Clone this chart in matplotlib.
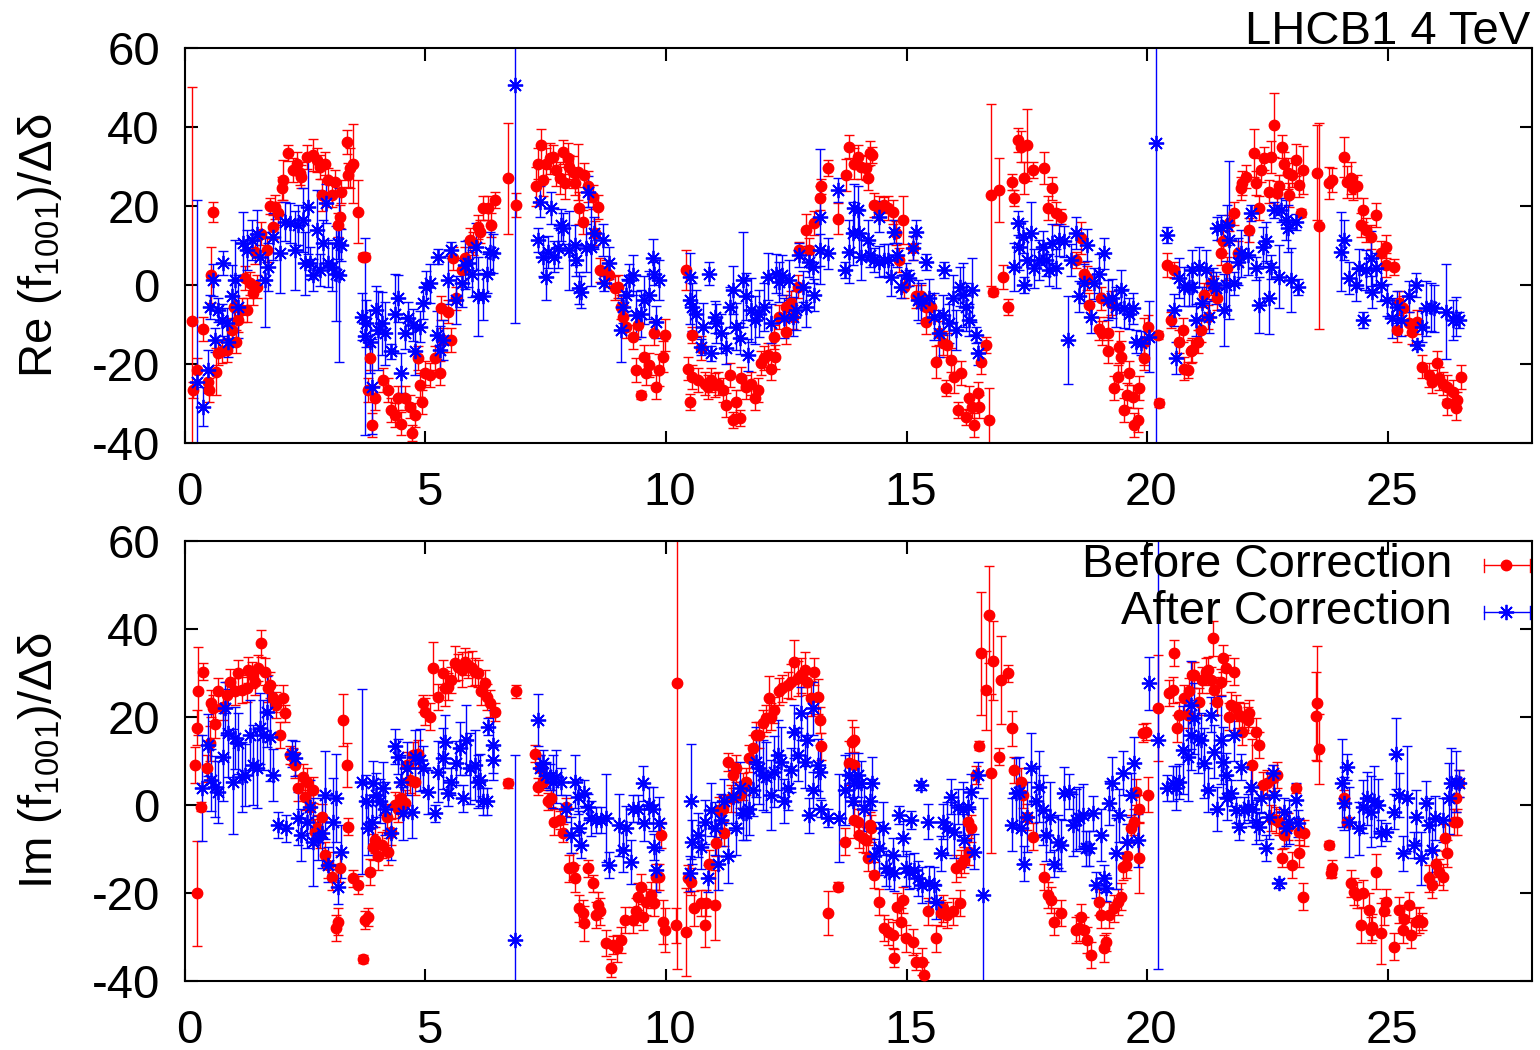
"""
LHCB1 4 TeV: coupling RDT f1001 / delta along the ring, before and after correction.
Top panel: real part, bottom panel: imaginary part.
"""

import numpy as np
import matplotlib
matplotlib.use("Agg")
import matplotlib.pyplot as plt
from matplotlib.transforms import ScaledTranslation


# ----------------------------
# Data: (s [km], value, error)
# ----------------------------

re_before = [
    (0.15, -9, 59), (0.17, -26.5, 2), (0.26, -21.5, 3), (0.38, -11.2, 3), (0.59, 18.4, 2.5),
    (0.48, -24.4, 3), (0.50, -26.5, 3), (0.64, -21.9, 6), (0.55, 2.5, 7), (0.69, -17.3, 3),
    (0.76, -16.8, 3), (0.87, -16.4, 3), (0.97, -11.4, 3), (1.07, -14.3, 3), (1.11, -8.8, 3),
    (1.02, -5.5, 3), (1.18, -6.3, 3), (1.28, -6.3, 3), (1.25, 1.7, 3), (1.35, 0.4, 3),
    (1.42, -2.1, 3), (1.49, -0.4, 3), (1.45, 8.4, 3), (1.59, 13, 3), (1.70, 8.8, 3),
    (1.84, 14.7, 3), (1.77, 20, 2), (1.87, 19.8, 3), (1.94, 18.1, 3), (2.01, 24.4, 3),
    (2.04, 26.5, 5), (2.15, 33.3, 2), (2.25, 29.1, 3), (2.32, 30.7, 3), (2.39, 28.2, 3),
    (2.42, 27.4, 3), (2.53, 32.4, 3), (2.67, 32.9, 4), (2.74, 31.6, 3), (2.80, 29.9, 3),
    (2.91, 30.7, 3), (2.84, 22.7, 4), (2.98, 26.5, 3), (3.05, 22.7, 3), (3.12, 26.1, 3),
    (3.25, 23.6, 3), (3.22, 17.3, 3), (3.19, 15.2, 3), (3.36, 36.2, 3), (3.39, 27.8, 3),
    (3.43, 29.5, 5), (3.50, 30.7, 10), (3.59, 18.5, 8), (3.70, 7.2, 1), (3.74, 7.2, 1),
    (3.84, -18.5, 3), (3.88, -35.4, 3), (3.81, -26.5, 3), (3.95, -28.6, 3), (4.12, -24, 3),
    (4.22, -26.5, 3), (4.29, -31.6, 3), (4.36, -32.9, 3), (4.43, -28.6, 3), (4.50, -35, 3),
    (4.57, -28.6, 3), (4.67, -30.7, 3), (4.78, -32.9, 3), (4.71, -37.4, 2), (4.92, -29.5, 3),
    (4.88, -25.3, 3), (4.85, -18.5, 3), (4.99, -22.3, 3), (5.09, -22.7, 3), (5.19, -18.5, 3),
    (5.30, -22.3, 3), (5.37, -13.9, 3), (5.33, -5.9, 3), (5.47, -6.7, 3), (5.54, -13.9, 3),
    (5.57, 6.7, 3), (5.64, -3.4, 3), (5.75, 3.8, 3), (5.82, 6.7, 3), (5.92, 11.4, 3),
    (5.99, 10.5, 3), (6.09, 14.7, 3), (6.13, 13.5, 3), (6.20, 19.4, 3), (6.30, 19.4, 3),
    (6.37, 15.2, 3), (6.44, 21.5, 2), (6.72, 27, 14), (6.89, 20.2, 3),
    (7.30, 24.9, 5), (7.33, 30.7, 4), (7.40, 35.4, 4), (7.44, 26.5, 4), (7.51, 30.7, 4),
    (7.58, 32, 4), (7.65, 32.4, 3), (7.72, 29.1, 4), (7.79, 27, 4), (7.85, 33.7, 3),
    (7.89, 25.7, 4), (7.96, 32, 4), (7.99, 29.9, 3), (8.06, 28.6, 4), (8.10, 25.7, 3),
    (8.17, 28.6, 7), (8.20, 19.4, 4), (8.27, 16, 3), (8.30, 27.8, 3), (8.37, 24.9, 4),
    (8.48, 22.3, 3), (8.58, 19.8, 3), (8.53, 13.1, 3), (8.62, 3.8, 3), (8.75, 3.4, 3),
    (8.82, 2.5, 3), (8.93, -0.8, 3), (9.00, -0.4, 3), (9.07, -5.5, 3), (9.10, -8, 3),
    (9.17, -10.5, 3), (9.31, -13.1, 3), (9.41, -10.1, 3), (9.38, -21.5, 3), (9.48, -27.8, 1),
    (9.55, -18.1, 3), (9.59, -22.3, 3), (9.65, -20.2, 3), (9.76, -12.2, 3), (9.79, -25.7, 3),
    (9.86, -21.5, 4), (9.93, -18.1, 4), (9.97, -12.6, 4),
    (10.42, 3.8, 5), (10.49, -29.5, 2), (10.45, -21.1, 3), (10.55, -12.6, 2), (10.55, -23.2, 3),
    (10.66, -24, 3), (10.73, -16, 3), (10.80, -24.9, 3), (10.87, -25.7, 3), (10.94, -24, 3),
    (11.01, -25.3, 3), (11.07, -24.9, 3), (11.18, -26.5, 3), (11.25, -30.3, 3), (11.32, -22.7, 3),
    (11.39, -34.1, 2), (11.46, -29.5, 3), (11.53, -33.7, 2), (11.56, -23.6, 3), (11.66, -25.7, 3),
    (11.77, -24.9, 3), (11.84, -28.6, 3), (11.91, -26.5, 3), (11.98, -19.8, 3), (12.04, -18.5, 3),
    (12.11, -17.7, 3), (12.18, -21.1, 3), (12.27, -18.1, 3), (12.25, -13.1, 3), (12.35, -8, 3),
    (12.49, -11.8, 3), (12.49, -5.5, 3), (12.60, -4.6, 3), (12.63, -8, 3), (12.74, -0.4, 3),
    (12.77, 8.8, 2), (12.91, 13.9, 4), (12.98, 8.8, 3), (13.08, 15.6, 3), (13.19, 21.9, 3),
    (13.22, 24.9, 2), (13.36, 29.5, 2), (13.57, 16.8, 4), (13.74, 27.8, 4), (13.81, 35, 3),
    (13.91, 30.7, 4),
    (13.98, 32.4, 3), (14.05, 29.9, 3), (14.16, 29.5, 3), (14.23, 33.3, 3), (14.29, 32.9, 2),
    (14.19, 27, 3), (14.33, 20.2, 3), (14.43, 19.4, 3), (14.54, 20.2, 2), (14.61, 19.4, 3),
    (14.71, 18.5, 3), (14.92, 16.4, 6), (14.78, 13.1, 3), (14.85, 6.3, 3), (14.95, -0.4, 3),
    (15.13, 9.3, 3), (15.20, -2.9, 3), (15.30, -2.9, 3), (15.40, -5.5, 3), (15.40, -9.3, 3),
    (15.51, -5.5, 3), (15.61, -19.4, 4), (15.68, -12.2, 3), (15.75, -14.7, 3), (15.85, -15.2, 3),
    (15.92, -19, 3), (15.82, -26.1, 2), (15.99, -23.2, 4), (16.06, -31.6, 2), (16.13, -22.3, 3),
    (16.23, -33.3, 2), (16.30, -28.6, 3), (16.37, -30.7, 3), (16.41, -35.4, 3), (16.48, -27.4, 3),
    (16.51, -30.7, 3), (16.55, -19.4, 3), (16.65, -15.2, 2), (16.72, -34.1, 8),
    (16.75, 22.7, 23), (16.93, 24, 8), (16.79, -1.7, 1), (17.00, 2.1, 3), (17.10, -5.5, 2),
    (17.20, 26.1, 2), (17.24, 21.9, 2), (17.31, 36.6, 3), (17.38, 35, 4), (17.45, 27, 4),
    (17.51, 35.4, 9), (17.62, 29.1, 2), (17.86, 29.5, 4), (17.93, 19.4, 3), (18.03, 24.4, 3),
    (18.10, 18.1, 3), (18.21, 17.3, 2), (18.52, 6.3, 2), (18.62, 11.8, 4), (18.69, 2.9, 3),
    (18.76, 1.7, 3), (18.80, -5.1, 3), (19.00, -11, 3), (19.04, -3.4, 3), (19.07, -12.2, 3),
    (19.18, -12.2, 4), (19.25, -4.6, 3), (19.18, -16.8, 3), (19.32, -26.1, 3), (19.39, -23.2, 3),
    (19.42, -15.6, 4), (19.45, -18.1, 4), (19.52, -31.6, 3), (19.59, -27.8, 3), (19.63, -22.3, 3),
    (19.70, -28.2, 3), (19.73, -35.4, 3), (19.80, -34.1, 3), (19.83, -26.1, 3), (19.94, -18.5, 3),
    (20.01, -10.5, 3), (19.94, -14.3, 6), (20.22, -12.6, 1), (20.25, -29.9, 1), (20.42, 5.1, 3),
    (20.56, 3.8, 2), (20.49, -8.8, 2), (20.67, -14.3, 3), (20.74, -11.4, 3), (20.77, -21.1, 3),
    (20.84, -21.5, 2), (20.91, -16.8, 3),
    (20.94, -16.4, 3), (21.05, -14.3, 3), (21.12, -11.4, 3), (21.19, -2.5, 3), (21.26, -8, 3),
    (21.32, 0.4, 3), (21.39, -0.8, 3), (21.46, -3.4, 3), (21.53, 8, 3), (21.57, 11, 3),
    (21.67, 4.2, 3), (21.71, 15.6, 2), (21.81, 18.1, 3), (21.88, 8, 3), (21.95, 24.4, 3),
    (21.98, 25.7, 3), (22.05, 27.4, 3), (22.12, 13.9, 3), (22.23, 33.3, 6), (22.26, 25.7, 3),
    (22.33, 19.4, 3), (22.36, 29.1, 3), (22.43, 32, 3), (22.54, 23.6, 3), (22.57, 32.4, 4),
    (22.64, 40.4, 8), (22.71, 23.2, 3), (22.74, 24.9, 3), (22.81, 35, 3), (22.85, 30.7, 3),
    (22.92, 28.2, 4), (22.95, 22.7, 3), (23.02, 27.8, 3), (23.09, 31.6, 4), (23.16, 25.3, 3),
    (23.23, 29.1, 6), (23.19, 18.1, 1), (23.54, 28.4, 12), (23.58, 14.9, 26), (23.78, 25.7, 4),
    (23.85, 26.5, 3), (24.10, 32.4, 5), (24.16, 26.1, 4), (24.23, 27, 4), (24.27, 24.4, 3),
    (24.37, 24.9, 3), (24.48, 19, 3), (24.44, 15.2, 3), (24.55, 13.9, 3), (24.65, 12.2, 3),
    (24.75, 17.7, 3), (24.86, 8, 3), (24.96, 9.7, 3), (25.13, 4.6, 2), (24.96, 5.1, 3),
    (25.24, -4.6, 3), (25.31, -5.9, 3), (25.20, -11.4, 3), (25.45, -9.7, 3), (25.51, -11.8, 3),
    (25.62, -9.3, 3), (25.72, -20.6, 3), (25.86, -22.7, 3), (25.93, -24.4, 3), (26.03, -19.8, 3),
    (26.07, -23.6, 3), (26.14, -24.9, 3), (26.24, -25.7, 3), (26.24, -29.9, 3), (26.35, -27, 3),
    (26.42, -31.2, 3), (26.45, -29.1, 2), (26.52, -23.2, 3),
]

re_after = [
    (0.24, -24.4, 46), (0.38, -30.7, 5), (0.48, -21.5, 5), (0.59, 1.3, 4), (0.52, -5.5, 3),
    (0.62, -13.9, 3), (0.69, -6.3, 3), (0.80, 5.5, 3), (0.76, -8.8, 4), (0.87, -9.7, 4),
    (0.90, -14.3, 4), (0.97, -2.9, 8), (1.04, 1.3, 10), (1.11, -5.5, 8), (1.21, 10.5, 8),
    (1.28, 8.8, 5), (1.39, 11.4, 5), (1.49, 13, 6), (1.56, 7.2, 6), (1.66, 1.3, 12),
    (1.73, 4.6, 6), (1.84, 12.2, 6), (1.97, 8, 10), (2.08, 16, 5), (2.18, 15.6, 5),
    (2.29, 8.8, 10), (2.35, 15.2, 5), (2.46, 16.4, 8), (2.49, 5.5, 8), (2.56, 19.8, 12),
    (2.60, 5.5, 4), (2.67, 2.5, 4), (2.74, 13.9, 10), (2.80, 3.8, 4), (2.87, 10.5, 6),
    (2.94, 20.6, 5), (2.98, 5.5, 6), (3.05, 4.6, 6), (3.15, 2.9, 12), (3.19, 10.5, 4),
    (3.25, 10.1, 4), (3.20, 2.5, 22), (3.74, -13, 25), (3.67, -8, 6), (3.77, -9.7, 6),
    (3.84, -14.3, 8), (3.88, -25.7, 12), (3.98, -6.3, 6), (4.02, -11.4, 10), (4.09, -9.7, 8),
    (4.16, -12.2, 8), (4.29, -16.8, 2), (4.36, -7.2, 10), (4.43, -3.4, 6), (4.50, -22.3, 5),
    (4.57, -12.2, 4), (4.64, -8.4, 4), (4.74, -10.1, 4), (4.78, -16.8, 6), (4.88, -10.5, 4),
    (4.95, -4.6, 4), (5.02, -0.4, 4), (5.09, 0.4, 5), (5.23, -12.6, 6), (5.30, -16.4, 6),
    (5.37, -13.9, 5), (5.47, 1.3, 6), (5.54, 8.8, 2), (5.64, -3.8, 6), (5.75, 0.4, 6),
    (5.82, 5.1, 6), (5.89, 5.5, 6), (5.96, 2.9, 6), (6.06, 9.7, 6), (6.09, -2.9, 10),
    (6.20, -2.9, 6), (6.27, 2.9, 5), (6.34, 8.4, 5), (6.41, 8, 5), (5.26, 7.2, 2),
    (6.86, 50.5, 60),
    (7.37, 21.1, 4), (7.33, 11.4, 3), (7.44, 7.2, 5), (7.51, 2.1, 6), (7.54, 8.4, 4),
    (7.61, 19.4, 4), (7.68, 7.2, 4), (7.75, 9.3, 5), (7.82, 15.2, 4), (7.85, 14.3, 4),
    (7.99, 8.8, 10), (8.10, 10.1, 5), (8.13, 6.3, 4), (8.20, -0.8, 4), (8.24, -1.7, 4),
    (8.34, 9.3, 6), (8.37, 23.6, 4), (8.44, 9.7, 10), (8.51, 13.1, 4), (8.69, 11.4, 4),
    (8.72, 0.4, 2), (8.82, 5.5, 4), (9.07, -11.4, 8), (9.10, -5.5, 4), (9.17, -2.5, 4),
    (9.24, 1.3, 4), (9.31, 2.5, 5), (9.38, -7.6, 6), (9.48, -7.2, 6), (9.55, -3.8, 6),
    (9.65, -2.5, 6), (9.72, 6.7, 5), (9.76, 2.9, 3), (9.79, -9.3, 4), (9.86, 1.3, 5),
    (10.49, 2.1, 6), (10.49, -3.8, 6), (10.55, -5.5, 6), (10.62, -7.2, 6), (10.73, -15.6, 2),
    (10.76, -10.5, 6), (10.90, 2.9, 3), (10.94, -17.3, 2), (11.01, -8, 4), (11.04, -9.7, 5),
    (11.14, -12.2, 5), (11.25, -16, 4), (11.32, -5.5, 5), (11.39, -1.3, 6), (11.46, -10.5, 6),
    (11.53, -13.5, 4), (11.59, 1.3, 12), (11.66, -2.9, 6), (11.70, -17.7, 4), (11.77, -6.3, 8),
    (11.84, -8.8, 6), (11.94, -7.2, 6), (12.04, -5.5, 6), (12.11, 2.1, 6), (12.18, -9.7, 5),
    (12.29, 2.9, 5), (12.35, 0.8, 5), (12.42, 2.5, 5), (12.46, -8.4, 5), (12.56, 1.3, 5),
    (12.63, -8, 5), (12.70, -6.3, 5), (12.77, 7.6, 3), (12.84, -0.4, 4), (12.91, -5.5, 5),
    (12.98, 5.9, 4), (13.05, 4.6, 4), (13.08, -2.5, 4), (13.19, 17.3, 17), (13.19, 8.8, 4),
    (13.36, 8, 4), (13.57, 24, 3), (13.71, 3.8, 2), (13.81, 8.4, 8), (13.88, 13.1, 8),
    (13.91, 19.4, 6),
    (13.98, 19, 6), (14.02, 13.1, 6), (14.05, 7.2, 6), (14.19, 11.4, 5), (14.23, 7.6, 3),
    (14.33, 6.3, 3), (14.43, 17.3, 4), (14.43, 5.9, 4), (14.54, 6.3, 4), (14.61, 6.3, 4),
    (14.68, 2.1, 5), (14.74, 13.5, 3), (14.81, 7.6, 3), (14.88, -0.4, 3), (14.99, 2.5, 3),
    (15.06, 1.7, 2), (15.13, 9.3, 3), (15.20, 13.5, 3), (15.23, -3.8, 5), (15.30, -4.6, 5),
    (15.40, 5.9, 2), (15.47, -3.4, 5), (15.58, -8, 6), (15.68, -12.2, 6), (15.75, -7.6, 5),
    (15.78, 3.8, 2), (15.89, -9.7, 5), (15.96, -3.4, 6), (16.03, -11.4, 5), (16.10, -0.4, 5),
    (16.17, -2.5, 8), (16.23, -5.5, 6), (16.30, -8.8, 4), (16.37, -1.3, 8), (16.44, -12.6, 2),
    (16.48, -17.3, 3),
    (17.24, 4.6, 6), (17.31, 15.6, 3), (17.34, 9.7, 6), (17.41, 12.2, 4), (17.45, 0, 2),
    (17.51, 6.3, 6), (17.58, 13.1, 8), (17.65, 4.2, 5), (17.76, 6.3, 5), (17.83, 9.7, 4),
    (17.90, 6.3, 4), (17.97, 3.8, 4), (18.03, 10.5, 5), (18.10, 4.2, 5), (18.17, 11.4, 4),
    (18.28, 11, 4), (18.35, -13.9, 11), (18.42, 6.3, 4), (18.52, 13.1, 4), (18.59, -2.9, 4),
    (18.69, 0.4, 5), (18.76, 10.1, 4), (18.83, -8, 4), (18.90, 0.4, 4), (18.99, 2.9, 5),
    (19.11, 8, 4), (19.18, -3.8, 5), (19.28, -3.4, 5), (19.35, -5.5, 5), (19.45, -1.3, 5),
    (19.52, -5.9, 5), (19.63, -7.2, 4), (19.70, -5.9, 4), (19.77, -14.3, 3), (19.87, -14.7, 3),
    (20.04, -13.1, 9), (20.18, 35.8, 95), (20.42, 12.6, 2), (20.56, -6.3, 4), (20.60, -18.5, 4),
    (20.67, 1.7, 5), (20.77, -0.4, 5), (20.87, -0.4, 5), (20.94, 3.8, 5),
    (20.94, -0.4, 5), (21.01, -8.8, 4), (21.08, 4.6, 5), (21.15, -4.6, 4), (21.22, 3.8, 5),
    (21.29, -8, 4), (21.36, 0.4, 4), (21.43, -0.8, 4), (21.46, 14.3, 3), (21.53, 14.7, 3),
    (21.60, -6.3, 9), (21.64, 0, 6), (21.67, 15.2, 5), (21.71, 11.4, 20), (21.81, 0.4, 3),
    (21.88, 5.9, 6), (21.95, 8, 6), (22.09, 7.6, 5), (22.16, 18.1, 2), (22.26, 4.2, 3),
    (22.33, -5.1, 7), (22.40, 9.7, 5), (22.47, 11, 5), (22.54, -3.4, 9), (22.57, 4.6, 3),
    (22.64, 19, 2), (22.74, 2.1, 8), (22.78, 19, 3), (22.88, 16.4, 5), (22.92, 14.3, 6),
    (22.99, 1.3, 8), (23.09, 16, 2), (23.13, -0.4, 2),
    (24.03, 8.4, 10), (24.10, 11.4, 5), (24.20, 1.7, 4), (24.34, 0, 4), (24.41, 4.2, 5),
    (24.48, -8.8, 2), (24.55, 3.8, 5), (24.65, 6.7, 7), (24.68, -1.7, 4), (24.75, 4.2, 4),
    (24.86, 0, 4), (24.99, -3.8, 4), (25.10, -8.4, 5), (25.20, -5.5, 4), (25.27, -8.8, 4),
    (25.45, -2.9, 4), (25.58, 0, 3), (25.62, -15.2, 1), (25.72, -10.5, 4), (25.79, -5.9, 7),
    (25.90, -5.5, 6), (25.97, -5.9, 6), (26.21, -6.7, 12), (26.35, -8.8, 5), (26.42, -8, 5),
    (26.48, -8.8, 2),
]

im_before = [
    (0.21, 9.1, 4), (0.24, 17.6, 4), (0.24, -20.1, 12), (0.28, 25.9, 10), (0.33, -0.4, 1),
    (0.38, 30.3, 2), (0.45, 8.3, 3), (0.52, 14, 4), (0.55, 23.1, 3), (0.59, 22, 3),
    (0.62, 18.3, 3), (0.69, 25.8, 3), (0.80, 22.3, 3), (0.87, 25, 3), (0.93, 28, 3),
    (1.04, 25.8, 3), (1.11, 29.9, 3), (1.18, 26.1, 3), (1.28, 26.5, 3), (1.32, 30.7, 3),
    (1.39, 29.5, 3), (1.45, 28, 3), (1.52, 31.1, 3), (1.59, 36.7, 3), (1.66, 30.3, 3),
    (1.73, 26.5, 3), (1.77, 27.3, 3), (1.84, 24.2, 3), (1.90, 22.7, 3), (1.97, 15.9, 3),
    (2.04, 24.2, 3), (2.08, 20.8, 2), (2.18, 11.4, 2), (2.25, 11, 2), (2.29, 9.1, 3),
    (2.35, 3.8, 3), (2.46, 6.4, 3), (2.49, 1.9, 3), (2.53, 5.3, 3), (2.60, -0.4, 3),
    (2.67, 3.4, 3), (2.70, -6.1, 3), (2.74, -5.3, 3), (2.80, -6.8, 3), (2.84, -2.7, 3),
    (2.91, -11.4, 3), (2.98, -13.6, 3), (3.05, -16.3, 3), (3.15, -28, 3), (3.19, -26.5, 3),
    (3.22, -14.4, 3), (3.29, 19.3, 6), (3.36, 9.2, 5), (3.39, -4.9, 2), (3.50, -16.7, 2),
    (3.59, -18.2, 2), (3.70, -35, 1), (3.74, -26.1, 2), (3.81, -25.4, 2), (3.84, -15.2, 3),
    (3.91, -9.5, 3), (3.95, -8, 3), (4.02, -11.7, 3), (4.09, -9.1, 3), (4.19, -2.7, 3),
    (4.22, -10.6, 3), (4.29, -6.1, 3), (4.36, 0, 3), (4.43, -0.8, 3), (4.50, 1.5, 3),
    (4.57, 0.4, 3), (4.61, 9.1, 3), (4.67, 5.7, 3), (4.74, 11.4, 3), (4.78, 5.3, 3),
    (4.85, 11.7, 3), (4.95, 23.1, 2), (4.99, 21.2, 3), (5.09, 20.1, 3), (5.16, 31.1, 6),
    (5.26, 24.6, 3), (5.37, 29.9, 3), (5.40, 26.5, 4), (5.47, 26.9, 3), (5.54, 28.4, 3),
    (5.61, 32.2, 4), (5.68, 31.4, 3), (5.75, 30.7, 4), (5.82, 32.6, 3), (5.89, 31.8, 3),
    (5.96, 31.1, 4), (6.02, 30.3, 3), (6.09, 29.9, 3), (6.16, 25.8, 3), (6.23, 27.7, 3),
    (6.27, 24.6, 3), (6.34, 23.1, 3), (6.44, 21.2, 2), (6.72, 4.9, 1), (6.89, 25.8, 1.5),
    (7.27, 11.7, 2), (7.33, 4.2, 2), (7.37, 8.3, 3), (7.44, 5.3, 2), (7.54, 0.8, 2),
    (7.61, 1.5, 2), (7.68, -3.8, 3), (7.79, -3.4, 2), (7.85, -6.4, 2), (7.92, -0.4, 2),
    (7.99, -14.4, 3), (8.06, -14, 3), (8.10, -16.7, 3), (8.20, -23.5, 3), (8.27, -24.6, 3),
    (8.30, -26.9, 4), (8.37, -14.4, 2), (8.48, -17.8, 2), (8.55, -25, 3), (8.58, -22.7, 3),
    (8.62, -24.2, 3), (8.75, -31.4, 3), (8.86, -37.1, 2), (8.89, -31.8, 2), (8.99, -32.6, 3),
    (9.07, -30.7, 3), (9.14, -26.1, 3), (9.31, -26.1, 3), (9.38, -24.2, 3), (9.41, -20.8, 3),
    (9.52, -25.4, 3), (9.48, -18.6, 3), (9.59, -22, 3), (9.69, -20.5, 3), (9.76, -22.3, 3),
    (9.79, -16.3, 3), (9.86, -16.3, 3), (9.90, -6.8, 3), (9.93, -26.5, 5), (9.97, -28.4, 5),
    (10.21, -27.3, 4), (10.22, 27.8, 65), (10.42, -28.8, 10), (10.45, -16.7, 3), (10.52, -17.4, 3),
    (10.59, -23.5, 4), (10.73, -22.3, 3), (10.80, -27.3, 5), (10.83, -22.3, 3), (10.90, -13.3, 3),
    (11.01, -22.7, 8), (11.04, -8.7, 3), (11.11, -1.1, 3), (11.18, -0.8, 3), (11.21, -6.4, 3),
    (11.28, 9.8, 2), (11.35, 1.5, 3), (11.39, 6.8, 3), (11.46, 8.3, 3), (11.53, 2.3, 3),
    (11.59, 4.2, 3), (11.66, 5.3, 3), (11.73, 10.6, 3), (11.80, 12.9, 3), (11.87, 15.9, 3),
    (11.94, 15.9, 3), (12.01, 18.6, 3), (12.08, 19.7, 3), (12.15, 24.2, 5), (12.18, 20.1, 3),
    (12.25, 21.6, 3), (12.35, 25.8, 3), (12.42, 26.5, 3), (12.53, 27.3, 3), (12.60, 28, 4),
    (12.67, 32.6, 5), (12.74, 28.8, 4), (12.81, 29.5, 4), (12.88, 30.7, 4), (12.94, 28, 3),
    (13.01, 24.2, 4), (13.08, 30.3, 3), (13.15, 24.6, 4), (13.19, 19.3, 3), (13.22, 13.3, 3),
    (13.36, -24.6, 5), (13.57, -18.6, 1), (13.71, -8.3, 3), (13.81, 9.5, 5), (13.87, 14.4, 5),
    (13.91, -3.4, 4),
    (13.91, 14.8, 3), (13.91, 9.1, 3), (13.98, -3.8, 3), (14.02, -6.8, 3), (14.09, -7.6, 3),
    (14.16, -8, 3), (14.23, -4.5, 3), (14.26, -5.3, 3), (14.19, -12.1, 3), (14.33, -15.9, 3),
    (14.43, -22, 3), (14.54, -28, 3), (14.61, -28.8, 3), (14.71, -29.5, 3), (14.74, -34.8, 2),
    (14.81, -23.1, 3), (14.88, -26.5, 3), (14.92, -21.6, 3), (14.99, -30.3, 3), (15.13, -31.1, 3),
    (15.20, -35.6, 2), (15.33, -35.6, 3), (15.37, -38.6, 3), (15.44, -24.2, 3), (15.61, -30.3, 3),
    (15.71, -24.6, 3), (15.75, -23.5, 3), (15.85, -25, 3), (15.96, -24.2, 3), (16.10, -22.3, 3),
    (16.03, -14.4, 3), (16.13, -13.3, 3), (16.20, -12.5, 3), (16.27, -3.8, 3), (16.34, -5.3, 3),
    (16.30, -10.6, 3), (16.44, 6.8, 2), (16.51, 13.5, 1), (16.55, 34.5, 14), (16.65, 26.1, 9),
    (16.72, 43.2, 11), (16.79, 32.8, 9), (16.75, 7.2, 18), (16.96, 28.4, 10), (16.93, 11, 2),
    (17.10, 29.9, 2), (17.20, 17.4, 4), (17.24, 8, 3), (17.38, 5.3, 3), (17.41, 2.3, 3),
    (17.51, -2.7, 3), (17.62, -7.2, 3), (17.86, -16.3, 3), (17.93, -20.5, 3), (18.00, -21.6, 3),
    (18.07, -26.5, 3), (18.21, -24.6, 3), (18.52, -28.4, 3), (18.59, -28, 3), (18.62, -25.4, 3),
    (18.69, -28.4, 3), (18.76, -30.7, 3), (18.83, -34.1, 3), (19.00, -22, 3), (19.04, -25, 3),
    (19.11, -32.6, 3), (19.14, -31.1, 2), (19.21, -25, 3), (19.32, -23.5, 3), (19.39, -22, 3),
    (19.45, -20.8, 3), (19.49, -14, 3), (19.56, -13.6, 3), (19.59, -11.7, 3), (19.66, -5.3, 3),
    (19.73, -3.8, 3), (19.77, 3, 3), (19.83, -0.8, 3), (19.83, -12.1, 8), (19.91, 16.3, 2),
    (19.97, 16.7, 2), (20.01, 2.3, 4), (20.22, 22, 12), (20.46, 25.4, 3), (20.53, 26.1, 3),
    (20.56, 34.5, 3), (20.63, 17.4, 3), (20.67, 20.5, 3), (20.77, 24.2, 3), (20.84, 20.5, 3),
    (20.94, 29.5, 3),
    (20.88, 25.8, 3), (20.98, 29.5, 3), (21.08, 23.5, 3), (21.15, 28.4, 3), (21.22, 30.3, 3),
    (21.26, 30.7, 3), (21.32, 28.4, 3), (21.36, 37.9, 4), (21.39, 26.1, 3), (21.46, 23.5, 3),
    (21.53, 28, 3), (21.57, 33.3, 3), (21.64, 31.1, 3), (21.71, 20.1, 3), (21.74, 22.7, 3),
    (21.81, 30.3, 3), (21.84, 22, 3), (21.91, 20.5, 3), (21.98, 16.7, 3), (22.02, 20.1, 3),
    (22.09, 19.3, 3), (22.12, 20.8, 3), (22.19, 9.1, 6), (22.26, 16.7, 3), (22.33, 13.6, 3),
    (22.40, 4.5, 3), (22.50, 4.9, 3), (22.61, 6.1, 3), (22.71, 6.8, 3), (22.57, -3, 3),
    (22.68, -3.4, 3), (22.74, -3.8, 3), (22.81, -12.1, 2), (22.85, -6.8, 3), (22.92, -4.9, 3),
    (23.02, -13.6, 3), (23.09, 3.8, 1), (23.16, -11, 3), (23.16, -6.1, 3), (23.26, -6.4, 3),
    (23.23, -20.8, 3), (23.54, 23.1, 13), (23.51, 20.2, 10), (23.58, 12.7, 8), (23.78, -9.1, 1),
    (23.82, -15.5, 1), (23.85, -14.4, 2), (24.10, 1.5, 2), (24.16, -3.8, 1), (24.23, -17.8, 3),
    (24.30, -19.7, 3), (24.37, -20.5, 3), (24.48, -20.1, 3), (24.44, -27.3, 4), (24.61, -23.9, 4),
    (24.65, -28.4, 3), (24.68, -27.7, 3), (24.75, -15.2, 4), (24.86, -29.2, 7), (24.93, -24.2, 3),
    (24.96, -22, 3), (25.13, -32.2, 3), (25.24, -23.9, 3), (25.31, -28.4, 3), (25.34, -25.8, 3),
    (25.45, -22.7, 3), (25.48, -29.5, 3), (25.58, -26.5, 3), (25.65, -26.1, 3), (25.72, -26.5, 2),
    (25.86, -16.7, 3), (25.93, -18.2, 3), (26.00, -13.3, 3), (26.07, -15.2, 3), (26.14, -16.3, 3),
    (26.19, -7.4, 3), (26.24, -11, 3), (26.38, -3.8, 3), (26.42, 1.5, 3), (26.45, -3.8, 3),
    (26.48, 4.9, 3),
]

im_after = [
    (0.35, 3.8, 12), (0.48, 13.6, 7), (0.55, 5.7, 7), (0.62, 4.2, 7), (0.69, 3, 7),
    (0.80, 11, 10), (0.83, 22, 6), (0.90, 16.3, 10), (1.00, 5.3, 12), (1.04, 15.2, 7),
    (1.11, 14, 7), (1.18, 6.4, 8), (1.25, 6.8, 7), (1.35, 15.9, 8), (1.42, 9.1, 9),
    (1.49, 8.3, 9), (1.56, 17.4, 8), (1.63, 15.9, 8), (1.70, 21.2, 8), (1.77, 15.5, 10),
    (1.84, 6.8, 6), (1.94, -4.5, 3), (2.11, -5.3, 3), (2.22, 11.7, 3), (2.29, 10.6, 4),
    (2.35, -3, 6), (2.42, -6.8, 6), (2.53, -3.8, 6), (2.60, -0.4, 6), (2.67, -8.3, 10),
    (2.77, -7.6, 5), (2.84, -6.4, 8), (2.91, 2.3, 10), (2.98, -13.6, 4), (3.08, -3.8, 10),
    (3.15, 1.5, 10), (3.19, -18.6, 4), (3.25, -10.6, 6), (3.67, 5.3, 21), (3.77, 0.8, 6),
    (3.81, -5.3, 6), (3.88, -3.8, 6), (3.91, 4.9, 5), (3.98, 2.3, 5), (4.05, 0.8, 5),
    (4.12, 3.8, 6), (4.16, -0.8, 6), (4.29, -6.4, 6), (4.36, 13.3, 4), (4.43, 11, 4),
    (4.50, 5.3, 6), (4.54, -1.9, 6), (4.61, 8.3, 6), (4.71, -1.5, 6), (4.78, 11, 6),
    (4.88, 10.2, 7), (4.95, 8.3, 5), (5.06, 3, 5), (5.19, -1.9, 2), (5.26, 7.6, 7),
    (5.37, 10.6, 7), (5.40, 14.4, 6), (5.47, 2.7, 3), (5.54, 5.3, 3), (5.64, 9.5, 5),
    (5.71, 12.9, 6), (5.78, 1.5, 3), (5.85, 14.8, 8), (5.92, 8.3, 8), (6.02, 9.1, 8),
    (6.09, 5.3, 6), (6.13, 5.7, 6), (6.20, 0.8, 3), (6.27, 0.8, 3), (6.30, 17.8, 2),
    (6.41, 13.6, 8), (6.41, 10.2, 3), (6.86, -30.7, 42),
    (7.33, 19.3, 6), (7.37, 8.3, 3), (7.44, 9.5, 3), (7.51, 6.8, 3), (7.58, 6.4, 3),
    (7.65, 5.3, 6), (7.72, 6.4, 6), (7.82, 5.3, 3), (7.92, -0.8, 3), (8.03, -6.8, 4),
    (8.10, 5.3, 6), (8.17, 1.9, 4), (8.20, -5.3, 4), (8.24, -9.1, 3), (8.30, 2.7, 3),
    (8.37, -0.4, 3), (8.44, -3, 4), (8.55, -3.4, 3), (8.65, -3.4, 3), (8.75, -3, 10),
    (8.82, -13.6, 3), (9.03, -4.5, 7), (9.10, -10.2, 5), (9.17, -5.3, 5), (9.27, -12.9, 5),
    (9.31, -0.8, 3), (9.41, -0.8, 3), (9.52, 4.9, 4), (9.55, -4.2, 4), (9.65, 0, 4),
    (9.72, -0.8, 5), (9.76, -9.5, 3), (9.79, -14.8, 5), (9.86, -4.2, 6),
    (10.52, 0.8, 13), (10.49, -15.5, 4), (10.55, -8.3, 5), (10.66, -6.8, 5), (10.73, -9.5, 5),
    (10.80, -3.8, 5), (10.87, -16.7, 3), (10.94, -1.1, 6), (11.01, -5.3, 6), (11.07, -13.3, 6),
    (11.14, -3.4, 6), (11.21, 0.8, 5), (11.28, -11.7, 6), (11.39, 1.9, 6), (11.46, -5.3, 6),
    (11.53, 3.8, 6), (11.59, -1.9, 6), (11.66, -1.9, 6), (11.73, -0.8, 6), (11.80, 3.4, 6),
    (11.87, 9.8, 8), (11.94, 8.3, 8), (12.01, 6.8, 8), (12.08, 6.4, 8), (12.18, 2.3, 8),
    (12.25, 7.6, 8), (12.32, 11.4, 8), (12.39, 9.8, 8), (12.46, 0.8, 5), (12.53, 3.8, 5),
    (12.60, 8, 5), (12.67, 16.7, 6), (12.74, 11.4, 6), (12.81, 20.8, 6), (12.88, 9.8, 6),
    (12.94, 14.8, 6), (12.98, -2.3, 4), (13.05, 22, 6), (13.05, 3.4, 4), (13.15, 9.1, 6),
    (13.19, 7.6, 6), (13.22, -0.8, 2), (13.36, -3, 2), (13.60, -3, 10), (13.71, 3.4, 8),
    (13.81, 6.8, 5), (13.88, 0.8, 5), (13.91, 4.9, 5),
    (13.98, 6.8, 5), (14.05, 4.9, 5), (14.12, -0.8, 5), (14.23, 0.8, 5), (14.29, 4.9, 6),
    (14.33, -11.7, 4), (14.43, -9.8, 6), (14.50, -5.3, 6), (14.57, -14.4, 4), (14.64, -15.2, 4),
    (14.71, -11.4, 4), (14.74, -15.5, 4), (14.85, -2.3, 2), (14.92, -7.6, 4), (14.99, -14.4, 4),
    (15.06, -15.2, 4), (15.09, -3.4, 2), (15.16, -14.8, 4), (15.23, -16.7, 4), (15.30, 4.5, 1),
    (15.33, -18.2, 4), (15.44, -3.8, 4), (15.47, -17.8, 4), (15.58, -18.2, 4), (15.61, -22, 4),
    (15.71, -11, 4), (15.75, -3.8, 4), (15.85, -5.3, 6), (15.92, 1.9, 4), (15.99, -6.1, 6),
    (16.06, -0.4, 4), (16.17, -0.8, 6), (16.20, -8, 6), (16.27, -0.4, 4), (16.34, 3, 4),
    (16.41, -10.6, 4), (16.48, 6.8, 3), (16.58, -20.5, 22),
    (17.20, -4.5, 6), (17.27, 2.7, 8), (17.34, 3, 8), (17.38, -5.3, 8), (17.45, -13.3, 4),
    (17.51, -2.7, 8), (17.58, 8.3, 8), (17.69, 0.8, 8), (17.76, 4.2, 8), (17.83, -1.1, 8),
    (17.90, -6.8, 6), (17.99, -2.7, 8), (18.07, -13.3, 3), (18.14, -8.3, 6), (18.21, -9.1, 6),
    (18.28, 2.7, 6), (18.38, 3, 4), (18.45, -4.5, 7), (18.52, -3.4, 7), (18.59, -3, 7),
    (18.66, -2.3, 7), (18.73, -9.8, 4), (18.80, -9.8, 4), (18.87, -1.9, 4), (18.94, -18.2, 3),
    (19.04, -6.8, 6), (19.11, -16.7, 3), (19.14, -18.9, 3), (19.21, 0.4, 5), (19.28, 4.9, 6),
    (19.35, -11, 8), (19.42, -2.3, 6), (19.49, 7.2, 5), (19.59, -8.3, 4), (19.66, 2.3, 5),
    (19.73, 9.5, 6), (19.80, -8, 6), (20.04, 27.7, 6), (20.22, 14.8, 52), (20.42, 3.8, 3),
    (20.53, 4.9, 4), (20.60, 3.8, 5), (20.67, 5.3, 4), (20.74, 12.5, 10), (20.84, 11, 10),
    (20.91, 22.7, 10),
    (20.91, 15.9, 8), (20.98, 19.7, 8), (21.05, 15.2, 8), (21.12, 14.8, 6), (21.19, 9.5, 8),
    (21.26, 3.4, 5), (21.32, 20.5, 4), (21.39, 12.1, 6), (21.46, -0.8, 5), (21.53, 14.8, 10),
    (21.57, 9.8, 8), (21.64, 6.8, 5), (21.67, 1.5, 5), (21.74, 2.7, 3), (21.81, 15.9, 6),
    (21.84, -1.1, 3), (21.91, -4.9, 3), (21.95, 8.7, 3), (22.02, -1.1, 3), (22.09, -0.4, 3),
    (22.16, 4.2, 4), (22.19, -0.8, 4), (22.26, -3.8, 5), (22.33, -4.9, 3), (22.36, 1.5, 3),
    (22.47, -9.8, 3), (22.54, -2.7, 5), (22.61, 7.2, 2), (22.64, 2.3, 5), (22.74, -17.8, 1),
    (22.85, -1.5, 3), (22.88, -5.3, 4), (22.95, -3.8, 5), (23.09, 1.1, 4), (23.13, -4.2, 3),
    (24.06, 4.9, 10), (24.10, 0.4, 6), (24.16, 8.7, 3), (24.20, -3.8, 8), (24.41, -5.3, 6),
    (24.48, -0.4, 6), (24.58, 1.5, 6), (24.65, -1.5, 8), (24.72, 0.8, 8), (24.79, 0, 6),
    (24.86, -6.4, 3), (24.96, -6.1, 2), (25.13, -1.5, 4), (25.17, 11.7, 8), (25.24, 2.3, 5),
    (25.31, -11, 4), (25.41, 1.5, 12), (25.55, -9.1, 3), (25.58, -2.7, 6), (25.69, -12.1, 6),
    (25.79, 0.4, 5), (25.86, -4.5, 6), (25.93, -10.2, 7), (25.99, -3, 5), (26.14, -3.4, 5),
    (26.28, 1.5, 8), (26.31, 4.9, 8), (26.42, 5.3, 7), (26.48, 4.9, 3),
]

x_ticks = [0, 5, 10, 15, 20, 25]
y_ticks = [-40, -20, 0, 20, 40, 60]
legend_labels = ["Before Correction", "After Correction"]
y_labels = ["Re (f$_{1001}$)/Δδ", "Im (f$_{1001}$)/Δδ"]
title = "LHCB1 4 TeV"


# ----------------------------
# Style
# ----------------------------

RED = "#ff0000"
BLUE = "#0000ff"
ASTERISK = (8, 2, 0)
FONT_SIZE = 34
RED_SIZE = 7.5
BLUE_SIZE = 11

plt.rcParams["font.family"] = ["Liberation Sans", "DejaVu Sans"]
plt.rcParams["mathtext.fontset"] = "custom"
plt.rcParams["mathtext.rm"] = "Liberation Sans"
plt.rcParams["mathtext.it"] = "Liberation Sans:italic"
plt.rcParams["axes.unicode_minus"] = False


def draw_series(ax, points, colour, marker, size, mew):
    s, v, err = np.array(points, dtype=float).T
    ax.errorbar(
        s, v, yerr=err,
        fmt="none", ecolor=colour, elinewidth=1.0, capsize=3.6, capthick=1.0, zorder=2,
    )
    ax.plot(
        s, v, linestyle="none", marker=marker, color=colour,
        markersize=size, markeredgewidth=mew, zorder=3,
    )


def style_axes(fig, ax, ylabel):
    ax.set_xlim(0, 28)
    ax.set_ylim(-40, 60)
    ax.set_xticks(x_ticks)
    ax.set_yticks(y_ticks)
    ax.tick_params(
        direction="in", length=9, width=1.5, top=True, right=True,
        labelsize=FONT_SIZE,
    )
    ax.tick_params(axis="x", pad=20)
    ax.tick_params(axis="y", pad=18)
    # gnuplot puts the x labels a few pixels right of their ticks
    shift = ScaledTranslation(4 / 100, 0, fig.dpi_scale_trans)
    for label in ax.get_xticklabels():
        label.set_transform(label.get_transform() + shift)
    for spine in ax.spines.values():
        spine.set_linewidth(1.5)
    ax.set_ylabel(ylabel, fontsize=FONT_SIZE)
    ax.yaxis.set_label_coords(-0.09, 0.5)


def draw_legend(ax):
    """gnuplot-style key: right-aligned text, horizontal sample with end caps."""
    rows = [
        (legend_labels[0], RED, "o", RED_SIZE, 1.0, 0.945),
        (legend_labels[1], BLUE, ASTERISK, BLUE_SIZE, 1.3, 0.838),
    ]
    x0, x1, xm = 0.9644, 0.9985, 0.981
    for label, colour, marker, size, mew, y in rows:
        ax.text(0.9406, y, label, transform=ax.transAxes, ha="right", va="center",
                fontsize=FONT_SIZE)
        ax.plot([x0, x1], [y, y], transform=ax.transAxes, color=colour, lw=1.0, clip_on=False)
        for xe in (x0, x1):
            ax.plot([xe, xe], [y - 0.015, y + 0.015], transform=ax.transAxes,
                    color=colour, lw=1.0, clip_on=False)
        ax.plot([xm], [y], transform=ax.transAxes, marker=marker, color=colour,
                markersize=size, markeredgewidth=mew, clip_on=False)


# ----------------------------
# Figure
# ----------------------------

fig = plt.figure(figsize=(15.4, 10.5), dpi=100)
ax_re = fig.add_axes([0.1201, 0.5778, 0.8747, 0.3769])
ax_im = fig.add_axes([0.1201, 0.0657, 0.8747, 0.4191])

draw_series(ax_re, re_before, RED, "o", RED_SIZE, 1.0)
draw_series(ax_re, re_after, BLUE, ASTERISK, BLUE_SIZE, 1.3)
draw_series(ax_im, im_before, RED, "o", RED_SIZE, 1.0)
draw_series(ax_im, im_after, BLUE, ASTERISK, BLUE_SIZE, 1.3)

style_axes(fig, ax_re, y_labels[0])
style_axes(fig, ax_im, y_labels[1])
draw_legend(ax_im)

fig.text(0.9935, 0.958, title, ha="right", va="baseline", fontsize=FONT_SIZE)

fig.savefig("out.png", dpi=100, facecolor="white")
plt.close(fig)
